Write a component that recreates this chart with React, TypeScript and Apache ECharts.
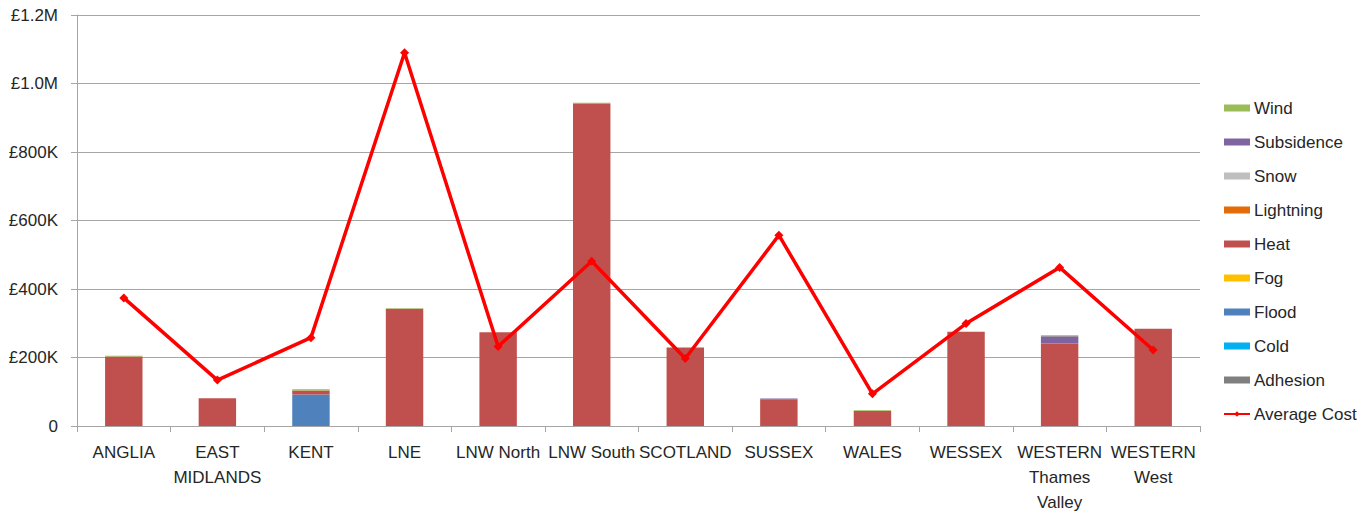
import React, { useEffect, useRef } from "react";
import * as echarts from "echarts";

const categories = [
  "ANGLIA",
  "EAST\nMIDLANDS",
  "KENT",
  "LNE",
  "LNW North",
  "LNW South",
  "SCOTLAND",
  "SUSSEX",
  "WALES",
  "WESSEX",
  "WESTERN\nThames\nValley",
  "WESTERN\nWest",
];

const adhesion = [0, 0, 0, 0, 0, 0, 0, 0, 0, 0, 0, 0];
const cold = [0, 0, 0, 0, 0, 0, 0, 0, 0, 0, 0, 0];
const flood = [0, 0, 92000, 0, 0, 0, 0, 0, 0, 0, 0, 0];
const fog = [0, 0, 0, 0, 0, 0, 0, 0, 0, 0, 0, 0];
const heat = [203000, 81000, 12000, 342000, 274000, 940000, 229000, 78000, 44000, 275000, 241000, 284000];
const lightning = [0, 0, 0, 0, 0, 0, 0, 0, 0, 0, 0, 0];
const snow = [0, 0, 0, 0, 0, 0, 0, 0, 0, 0, 0, 0];
const subsidence = [0, 0, 0, 0, 0, 0, 0, 2000, 0, 0, 21000, 0];
const wind = [2000, 0, 3000, 2000, 0, 4000, 0, 0, 2000, 0, 3000, 0];
const averageCost = [374000, 134000, 258000, 1090000, 232000, 481000, 197000, 557000, 94000, 299000, 463000, 222000];

const yTicks = [0, 200000, 400000, 600000, 800000, 1000000, 1200000];

const stackSeries: [string, number[], string][] = [
  ["Adhesion", adhesion, "#7f7f7f"],
  ["Cold", cold, "#00b0f0"],
  ["Flood", flood, "#4f81bd"],
  ["Fog", fog, "#ffc000"],
  ["Heat", heat, "#c0504d"],
  ["Lightning", lightning, "#e36c09"],
  ["Snow", snow, "#bfbfbf"],
  ["Subsidence", subsidence, "#8064a2"],
  ["Wind", wind, "#9bbb59"],
];

const legendOrder = [
  "Wind",
  "Subsidence",
  "Snow",
  "Lightning",
  "Heat",
  "Fog",
  "Flood",
  "Cold",
  "Adhesion",
  "Average Cost",
];

const FONT = "'Liberation Sans', Arial, sans-serif";
const TEXT = "#262626";
const GRID = "#a6a6a6";

function fmt(v: number): string {
  if (v === 0) return "0";
  if (v >= 1000000) return "£" + (v / 1000000).toFixed(1) + "M";
  return "£" + Math.round(v / 1000) + "K";
}

export default function App() {
  const ref = useRef<HTMLDivElement>(null);
  useEffect(() => {
    if (!ref.current) return;
    const chart = echarts.init(ref.current, undefined, { renderer: "svg" });
    chart.setOption({
      animation: false,
      backgroundColor: "#ffffff",
      grid: { left: 77, right: 170, top: 15, bottom: 84, containLabel: false },
      legend: {
        orient: "vertical",
        left: 1223,
        top: 98,
        padding: 0,
        itemWidth: 26,
        itemHeight: 7,
        itemGap: 14,
        data: legendOrder.map((n) =>
          n === "Average Cost"
            ? { name: n, itemStyle: { color: "#ff0000" } }
            : { name: n, icon: "rect" }
        ),
        textStyle: { fontFamily: FONT, fontSize: 17, color: TEXT, lineHeight: 20, padding: [0, 0, 0, -1] },
      },
      xAxis: {
        type: "category",
        data: categories,
        axisLine: { lineStyle: { color: GRID } },
        axisTick: { show: true, length: 6, alignWithLabel: false, lineStyle: { color: GRID } },
        axisLabel: {
          interval: 0,
          fontFamily: FONT,
          fontSize: 17,
          color: TEXT,
          lineHeight: 25,
          margin: 14,
        },
      },
      yAxis: {
        type: "value",
        min: 0,
        max: 1200000,
        interval: 200000,
        axisLine: { show: true, lineStyle: { color: GRID } },
        axisTick: { show: true, length: 6, lineStyle: { color: GRID } },
        splitLine: { lineStyle: { color: GRID } },
        axisLabel: {
          fontFamily: FONT,
          fontSize: 17,
          color: TEXT,
          margin: 19,
          formatter: (v: number) => (yTicks.includes(v) ? fmt(v) : ""),
        },
      },
      series: [
        ...stackSeries.map(([name, data, color]) => ({
          name,
          type: "bar",
          stack: "cost",
          data,
          barWidth: "40%",
          itemStyle: { color },
          emphasis: { disabled: true },
        })),
        {
          name: "Average Cost",
          type: "line",
          data: averageCost,
          z: 10,
          symbol: "diamond",
          symbolSize: 9,
          lineStyle: { color: "#ff0000", width: 3.5 },
          itemStyle: { color: "#ff0000" },
          emphasis: { disabled: true },
        },
      ],
    });
    return () => chart.dispose();
  }, []);
  return <div ref={ref} style={{ width: 1370, height: 515, position: "absolute", left: 0, top: 0 }} />;
}
